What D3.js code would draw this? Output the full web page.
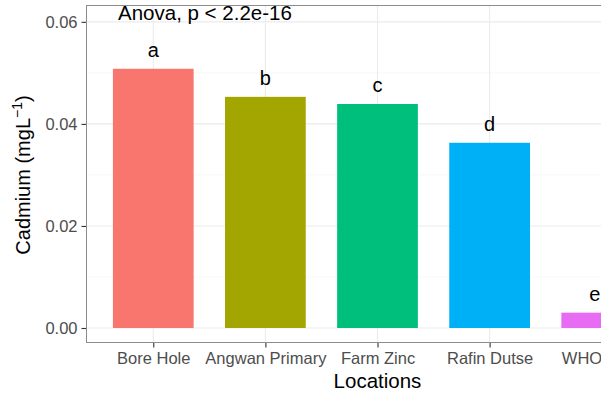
<!DOCTYPE html>
<html>
<head>
<meta charset="utf-8">
<script src="https://cdn.jsdelivr.net/npm/d3@7"></script>
<style>
  html, body { margin: 0; padding: 0; background: #fff; }
  svg { display: block; font-family: Arial, "Liberation Sans", sans-serif; }
</style>
</head>
<body>
<svg id="chart" width="601" height="398"></svg>
<script>
// Mean cadmium concentration per sampling location
const locations = ["Bore Hole", "Angwan Primary", "Farm Zinc", "Rafin Dutse", "WHO"];
const cadmium = [0.0508, 0.0453, 0.0439, 0.0363, 0.003];
const groupLetters = ["a", "b", "c", "d", "e"];
const barColors = ["#F8766D", "#A3A500", "#00BF7D", "#00B0F6", "#E76BF3"];
const yTicks = [0, 0.02, 0.04, 0.06];
const yMinor = [0.01, 0.03, 0.05];
const testLabel = "Anova, p < 2.2e-16";

const svg = d3.select("#chart");
const panel = { left: 86, top: 5, right: 669, bottom: 343 };

// discrete x positions with 0.6 step of padding on each side
const x = d3.scalePoint()
  .domain(locations)
  .range([panel.left, panel.right])
  .padding(0.6);
const barW = x.step() * 0.72;

const y = d3.scaleLinear()
  .domain([-0.00294, 0.0633])
  .range([panel.bottom, panel.top]);

svg.append("clipPath").attr("id", "panelClip")
  .append("rect")
  .attr("x", panel.left).attr("y", panel.top)
  .attr("width", panel.right - panel.left).attr("height", panel.bottom - panel.top);

const g = svg.append("g").attr("clip-path", "url(#panelClip)");

// background grid
g.selectAll(".minor").data(yMinor).join("line")
  .attr("x1", panel.left).attr("x2", panel.right)
  .attr("y1", d => y(d)).attr("y2", d => y(d))
  .attr("stroke", "#F2F2F2").attr("stroke-width", 0.6);
g.selectAll(".major").data(yTicks).join("line")
  .attr("x1", panel.left).attr("x2", panel.right)
  .attr("y1", d => y(d)).attr("y2", d => y(d))
  .attr("stroke", "#EBEBEB").attr("stroke-width", 1.1);
g.selectAll(".vmajor").data(locations).join("line")
  .attr("x1", d => x(d)).attr("x2", d => x(d))
  .attr("y1", panel.top).attr("y2", panel.bottom)
  .attr("stroke", "#EBEBEB").attr("stroke-width", 1.1);

// bars
g.selectAll(".bar").data(locations).join("rect")
  .attr("x", d => x(d) - barW / 2)
  .attr("width", barW)
  .attr("y", (d, i) => y(cadmium[i]))
  .attr("height", (d, i) => y(0) - y(cadmium[i]))
  .attr("fill", (d, i) => barColors[i]);

// group letters above bars (the last one sits against the right edge)
const lastLoc = locations[locations.length - 1];
svg.selectAll(".letter").data(locations).join("text")
  .attr("x", d => d === lastLoc ? x(d) - 7 : x(d))
  .attr("y", (d, i) => y(cadmium[i]) - 12)
  .attr("text-anchor", "middle")
  .attr("font-size", 20)
  .attr("fill", "#000")
  .text((d, i) => groupLetters[i]);

// test annotation
svg.append("text")
  .attr("x", 118).attr("y", 20)
  .attr("font-size", 20.5)
  .attr("fill", "#000")
  .text(testLabel);

// panel border
svg.append("rect")
  .attr("x", panel.left + 0.5).attr("y", panel.top + 0.5)
  .attr("width", panel.right - panel.left).attr("height", panel.bottom - panel.top - 1)
  .attr("fill", "none").attr("stroke", "#8C8C8C").attr("stroke-width", 1);

// axes
const yAxis = svg.append("g")
  .attr("transform", `translate(${panel.left},0)`)
  .call(d3.axisLeft(y).tickValues(yTicks).tickFormat(d3.format(".2f")).tickSize(4.5).tickPadding(4));
yAxis.select(".domain").remove();
yAxis.selectAll(".tick line").attr("stroke", "#333").attr("stroke-width", 1.1);
yAxis.selectAll(".tick text").attr("fill", "#4D4D4D").attr("font-size", 16.5).attr("font-family", "Arial, 'Liberation Sans', sans-serif");

const xAxis = svg.append("g")
  .attr("transform", `translate(0,${panel.bottom})`)
  .call(d3.axisBottom(x).tickSize(4.5).tickPadding(5));
xAxis.select(".domain").remove();
xAxis.selectAll(".tick line").attr("stroke", "#333").attr("stroke-width", 1.1);
xAxis.selectAll(".tick text").attr("fill", "#4D4D4D").attr("font-size", 16.5).attr("font-family", "Arial, 'Liberation Sans', sans-serif");
// the last category label starts at its bar's left edge so it stays on the page
xAxis.selectAll(".tick").filter(d => d === lastLoc).select("text")
  .attr("text-anchor", "start")
  .attr("x", -barW / 2);

// axis titles
svg.append("text")
  .attr("x", x("Farm Zinc")).attr("y", 388)
  .attr("text-anchor", "middle")
  .attr("font-size", 20.5)
  .text("Locations");

const yt = svg.append("text")
  .attr("transform", "translate(30,175) rotate(-90)")
  .attr("text-anchor", "middle")
  .attr("font-size", 20);
yt.append("tspan").text("Cadmium (mgL");
yt.append("tspan").attr("dy", -8).attr("font-size", 14).text("\u22121");
yt.append("tspan").attr("dy", 8).text(")");
</script>
</body>
</html>
